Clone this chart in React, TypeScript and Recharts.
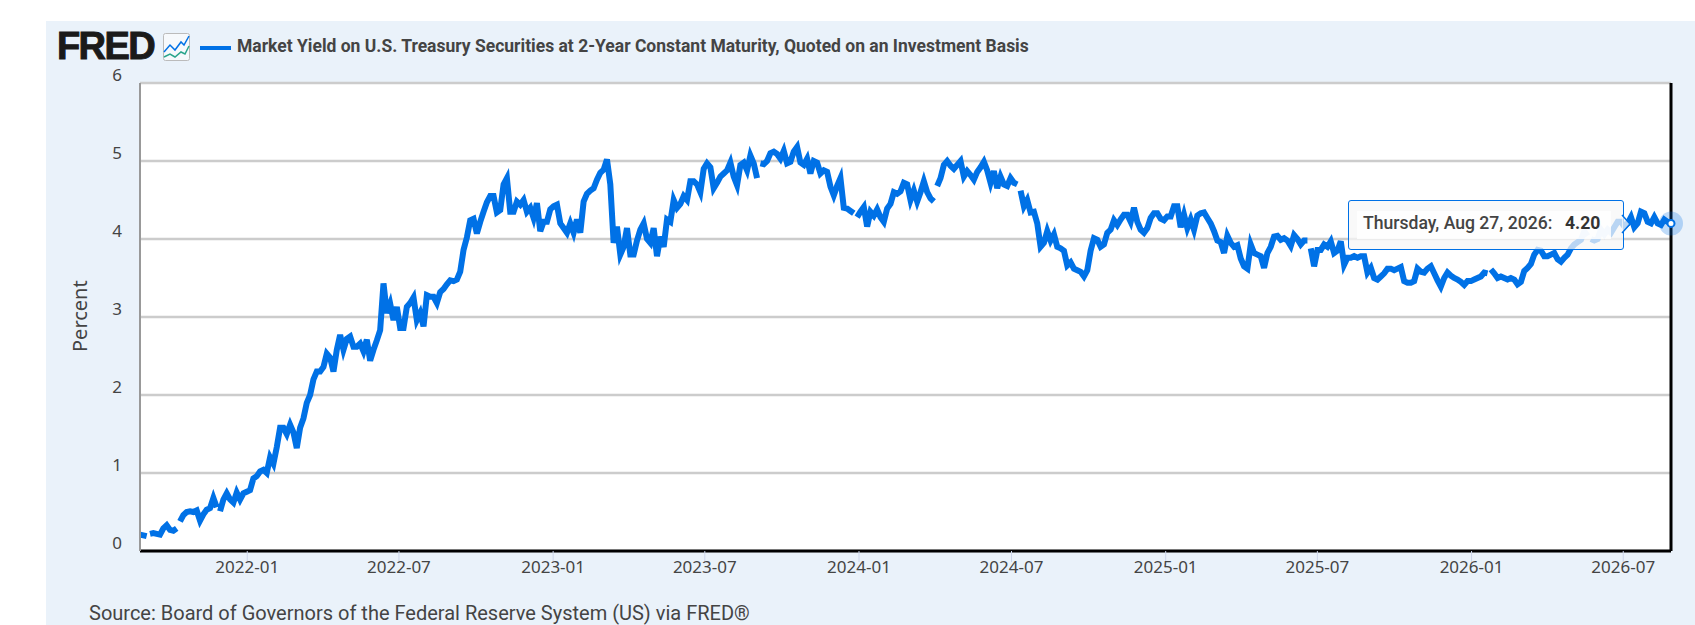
import { CartesianGrid, Line, LineChart, ReferenceLine, Tooltip, XAxis, YAxis } from "recharts";

const BLUE = "#0071e6";
const TEXT = "#444444";

// 2-year yield, one reading about every 4 days.
// null = a break in the line between two readings, it takes no slot of its own.
const yields2021: (number | null)[] = [
  0.21, 0.2, 0.19, null, 0.22, 0.23, 0.22, 0.21, 0.29, 0.33, 0.27,
  0.26, 0.29, null, 0.38, 0.46, 0.5, 0.51, 0.5, 0.52, 0.39, 0.47,
  0.53, 0.55, 0.68, 0.56, null, 0.51, 0.66, 0.74, 0.66, 0.62, 0.75,
  0.66, 0.74, 0.76, 0.78, 0.93, 0.96, 1.02, 1.04, 1.0, 1.2,
  1.12, 1.33, 1.58, 1.58, 1.5, 1.62, 1.52, 1.32, 1.58, 1.7,
  1.9, 2.0, 2.2, 2.3, 2.3, 2.36, 2.53, 2.48, 2.3, 2.58,
];
const yields2022: (number | null)[] = [
  2.77, 2.58, 2.72, 2.75, 2.62, 2.62, 2.66, 2.56, 2.71, 2.44,
  2.58, 2.7, 2.83, 3.43, 3.05, 3.17, 2.96, 3.13, 2.86, 2.86,
  3.13, 3.18, 3.25, 2.96, 3.05, 2.88, 3.28, 3.26, 3.26, 3.18,
  3.32, 3.36, 3.42, 3.47, 3.46, 3.48, 3.58, 3.86, 4.02, 4.24,
  4.26, 4.07, 4.22, 4.35, 4.47, 4.55, 4.55, 4.34,
];
const yields2023a: (number | null)[] = [
  4.37, 4.7, 4.78, 4.35, 4.35, 4.48, 4.44, 4.5, 4.35, 4.4,
  4.27, 4.46, 4.1, 4.22, 4.22, 4.38, 4.42, 4.44, 4.2, 4.14,
  4.08, 4.2, 4.08, 4.25, 4.08, 4.48, 4.58, 4.62, 4.65, 4.76,
  4.85, 4.89, 5.02, 4.7, 3.95, 4.16, 3.8, 3.9, 4.14, 3.8,
  3.8, 3.98, 4.12, 4.2, 4.0, 3.95, 4.14, 3.78, 4.03, 3.9,
  4.25, 4.22, 4.5, 4.4, 4.45, 4.55, 4.5, 4.74, 4.74, 4.7,
];
const yields2023b: (number | null)[] = [
  4.6, 4.9, 4.97, 4.92, 4.65, 4.72, 4.8, 4.84, 4.88, 4.98,
  4.8, 4.69, 4.95, 4.98, 4.88, 5.07, 4.97, 4.78, null, 4.97, 4.96,
  5.0, 5.1, 5.12, 5.09, 5.03, 5.13, 4.97, 4.99, 5.12, 5.18,
  4.98, 4.95, 5.03, 4.84, 5.0, 4.98, 4.84, 4.88, 4.86, 4.67,
  4.56, 4.68, 4.78, 4.4, 4.39, 4.36, 4.33, null, 4.28, 4.35, 4.41,
  4.16, 4.35, 4.3, 4.38, 4.28, 4.22, 4.39, 4.45, 4.6, 4.58,
];
const yields2024: (number | null)[] = [
  4.61, 4.72, 4.7, 4.5, 4.62, 4.48, 4.6, 4.74, 4.6, 4.52,
  4.48, null, 4.68, 4.78, 4.95, 5.0, 4.94, 4.9, 4.95, 5.0, 4.8,
  4.87, 4.82, 4.76, 4.86, 4.92, 4.99, 4.88, 4.72, 4.87, 4.65,
  4.8, 4.7, 4.68, 4.78, 4.72, 4.7, null, 4.62, 4.42, 4.5, 4.34,
  4.35, 4.2, 3.9, 3.95, 4.1, 3.98, 4.06, 3.9, 3.88, 3.85,
  3.66, 3.7, 3.62, 3.6, 3.58, 3.52, 3.6, 3.85, 4.01, 3.99,
];
const yields2025a: (number | null)[] = [
  3.9, 3.93, 4.08, 4.12, 4.24, 4.18, 4.25, 4.31, 4.31, 4.22,
  4.4, 4.22, 4.12, 4.08, 4.14, 4.27, 4.33, 4.33, 4.26, 4.24,
  4.29, 4.29, 4.42, 4.42, 4.15, 4.31, 4.14, 4.25, 4.12, 4.3,
];
const yields2025b: (number | null)[] = [
  4.33, 4.34, 4.27, 4.2, 4.1, 3.98, 3.96, 3.82, 4.04, 3.95,
  3.9, 3.92, 3.75, 3.65, 3.62, 3.93, 3.82, 3.8, 3.78, 3.63,
  3.82, 3.9, 4.03, 4.04, 3.99, 4.01, 3.98, 3.91, 4.05, 4.0,
  3.93, 3.98, 3.98, null, 3.88, 3.65, 3.86, 3.86, 3.93, 3.9, 3.97,
  3.82, 3.85, 3.97, 3.67, 3.76, 3.76, 3.78, 3.76, 3.78, 3.78,
  3.57, 3.63, 3.5, 3.48, 3.52, 3.56, 3.62, 3.62, 3.6, 3.62,
  3.64, 3.46, 3.44, 3.44, 3.46, 3.62, 3.58, 3.57, 3.62, 3.65,
  3.56, 3.47, 3.39, 3.5, 3.57, 3.53, 3.5, 3.48, 3.45, 3.41,
  3.46, 3.46, 3.48, 3.5, 3.52, 3.57, 3.56, null, 3.61, 3.56, 3.5,
];
const yields2026: (number | null)[] = [
  3.52, 3.5, 3.48, 3.5, 3.48, 3.42, 3.45, 3.59, 3.63, 3.68,
  3.8, 3.86, 3.85, 3.78, 3.78, 3.8, 3.82, 3.74, 3.71, 3.76,
  3.8, 3.88, 3.93, 3.96, 3.99, 4.1, 4.04, null, 4.0, 3.98, 4.0,
  4.12, 4.06, 4.12, 4.08, 4.15, 4.22, 4.22, 4.16, 4.2, 4.28,
  4.15, 4.2, 4.35, 4.33, 4.22, 4.2, 4.28, 4.2, 4.18, 4.25,
  4.22, 4.2,
];

const yTicks = [0, 1, 2, 3, 4, 5, 6];
const xTickDates = ["2022-01-01", "2022-07-01", "2023-01-01", "2023-07-01", "2024-01-01", "2024-07-01", "2025-01-01", "2025-07-01", "2026-01-01", "2026-07-01"];

const startDate = Date.UTC(2021, 7, 26);
const endDate = Date.UTC(2026, 7, 27);

const allYields = [
  ...yields2021, ...yields2022, ...yields2023a, ...yields2023b,
  ...yields2024, ...yields2025a, ...yields2025b, ...yields2026,
];
const readingCount = allYields.filter((v) => v !== null).length;
const step = (endDate - startDate) / (readingCount - 1);

let slot = 0;
const data = allYields.map((v) => {
  if (v === null) return { date: startDate + (slot - 0.5) * step, value: null };
  return { date: startDate + slot++ * step, value: v };
});
const xTicks = xTickDates.map((d) => Date.parse(d));

function formatMonth(t: number) {
  return new Date(t).toISOString().slice(0, 7);
}

function HoverDot(props: any) {
  const { cx, cy } = props;
  return (
    <g>
      <circle cx={cx} cy={cy} r={12} fill={BLUE} fillOpacity={0.25} />
      <circle cx={cx} cy={cy} r={3.5} fill="#fff" stroke={BLUE} strokeWidth={2} />
    </g>
  );
}

function HoverBox() {
  return (
    <div style={{ position: "relative", width: 276, height: 50, boxSizing: "border-box", background: "rgba(247,247,247,0.75)", border: `1.5px solid ${BLUE}`, borderRadius: 3, fontFamily: "Roboto", fontWeight: 500, fontSize: 17.6, color: "#333" }}>
      <div style={{ position: "absolute", left: 8, top: 10, width: 254, height: 28, background: "rgba(255,255,255,0.85)" }} />
      <span style={{ position: "absolute", left: 14, top: 12, whiteSpace: "nowrap", color: TEXT }}>Thursday, Aug 27, 2026:</span>
      <span style={{ position: "absolute", left: 216, top: 12, color: "#333", fontWeight: 700 }}>4.20</span>
      <svg style={{ position: "absolute", left: 273, top: 14, overflow: "visible" }} width={10} height={20}>
        <polyline points="0,0 8,9 0,18" fill="rgba(247,247,247,0.75)" stroke={BLUE} strokeWidth={1.5} />
      </svg>
    </div>
  );
}

export default function App() {
  return (
    <div style={{ position: "absolute", left: 0, top: 0, width: 1695, height: 625, background: "#fff", overflow: "hidden" }}>
      <div style={{ position: "absolute", left: 46, top: 21, width: 1649, height: 604, background: "#eaf2fa" }} />
      <div style={{ position: "absolute", left: 0, top: 0 }}>
        <LineChart width={1695} height={625} data={data} margin={{ top: 83, right: 24, bottom: 34, left: 80 }}>
          <CartesianGrid vertical={false} horizontal stroke="#cccccc" strokeWidth={2.5} fill="#fff" />
          <XAxis
            dataKey="date" type="number" scale="time" domain={[startDate, endDate]}
            ticks={xTicks} tickFormatter={formatMonth} interval={0} height={40}
            axisLine={{ stroke: "#000", strokeWidth: 3 }} tickLine={{ stroke: "#ccd6eb" }} tickSize={11}
            tick={{ fontSize: 17, fill: TEXT, fontFamily: "Noto Sans" }} tickMargin={-1}
          />
          <YAxis
            domain={[0, 6]} ticks={yTicks} width={60} interval={0}
            axisLine={{ stroke: "#999", strokeWidth: 2 }} tickLine={false} tickSize={0} tickMargin={18}
            tick={{ fontSize: 17, fill: TEXT, fontFamily: "Noto Sans", dy: -8 }}
            label={{ value: "Percent", angle: -90, position: "insideLeft", offset: 0, dy: 35, style: { fontSize: 20, fill: TEXT, fontFamily: "Noto Sans" } }}
          />
          <ReferenceLine x={endDate} stroke="#000" strokeWidth={3} />
          <Tooltip
            active defaultIndex={data.length - 1} content={<HoverBox />} cursor={false}
            position={{ x: 1348, y: 200 }} isAnimationActive={false} allowEscapeViewBox={{ x: true, y: true }}
          />
          <Line
            dataKey="value" stroke={BLUE} strokeWidth={6} dot={false} connectNulls={false}
            activeDot={<HoverDot />} isAnimationActive={false} strokeLinejoin="miter"
          />
        </LineChart>
      </div>
      <div style={{ position: "absolute", left: 57, top: 25, fontFamily: "Liberation Sans", fontWeight: 700, fontSize: 38, letterSpacing: -1.6, color: "#1a1a1a", WebkitTextStroke: "1px #1a1a1a" }}>FRED</div>
      <svg style={{ position: "absolute", left: 163, top: 33 }} width={27} height={28}>
        <rect x={0.5} y={0.5} width={26} height={27} rx={2} fill="#f6f9fc" stroke="#bbb" />
        <polyline points="1,19 7,12 12,17 18,9 21,12 26,3" fill="none" stroke={BLUE} strokeWidth={1.5} />
        <polyline points="1,24 7,21 12,24 18,19 22,21 26,13" fill="none" stroke="#2aa58c" strokeWidth={1.5} />
      </svg>
      <div style={{ position: "absolute", left: 200, top: 46, width: 31, height: 4, background: BLUE }} />
      <div style={{ position: "absolute", left: 237, top: 36, fontFamily: "Roboto", fontWeight: 700, fontSize: 17.5, color: TEXT, whiteSpace: "nowrap" }}>
        Market Yield on U.S. Treasury Securities at 2-Year Constant Maturity, Quoted on an Investment Basis
      </div>
      <div style={{ position: "absolute", left: 89, top: 601, fontFamily: "Roboto", fontSize: 20, color: TEXT, whiteSpace: "nowrap" }}>
        Source: Board of Governors of the Federal Reserve System (US) via FRED®
      </div>
    </div>
  );
}
